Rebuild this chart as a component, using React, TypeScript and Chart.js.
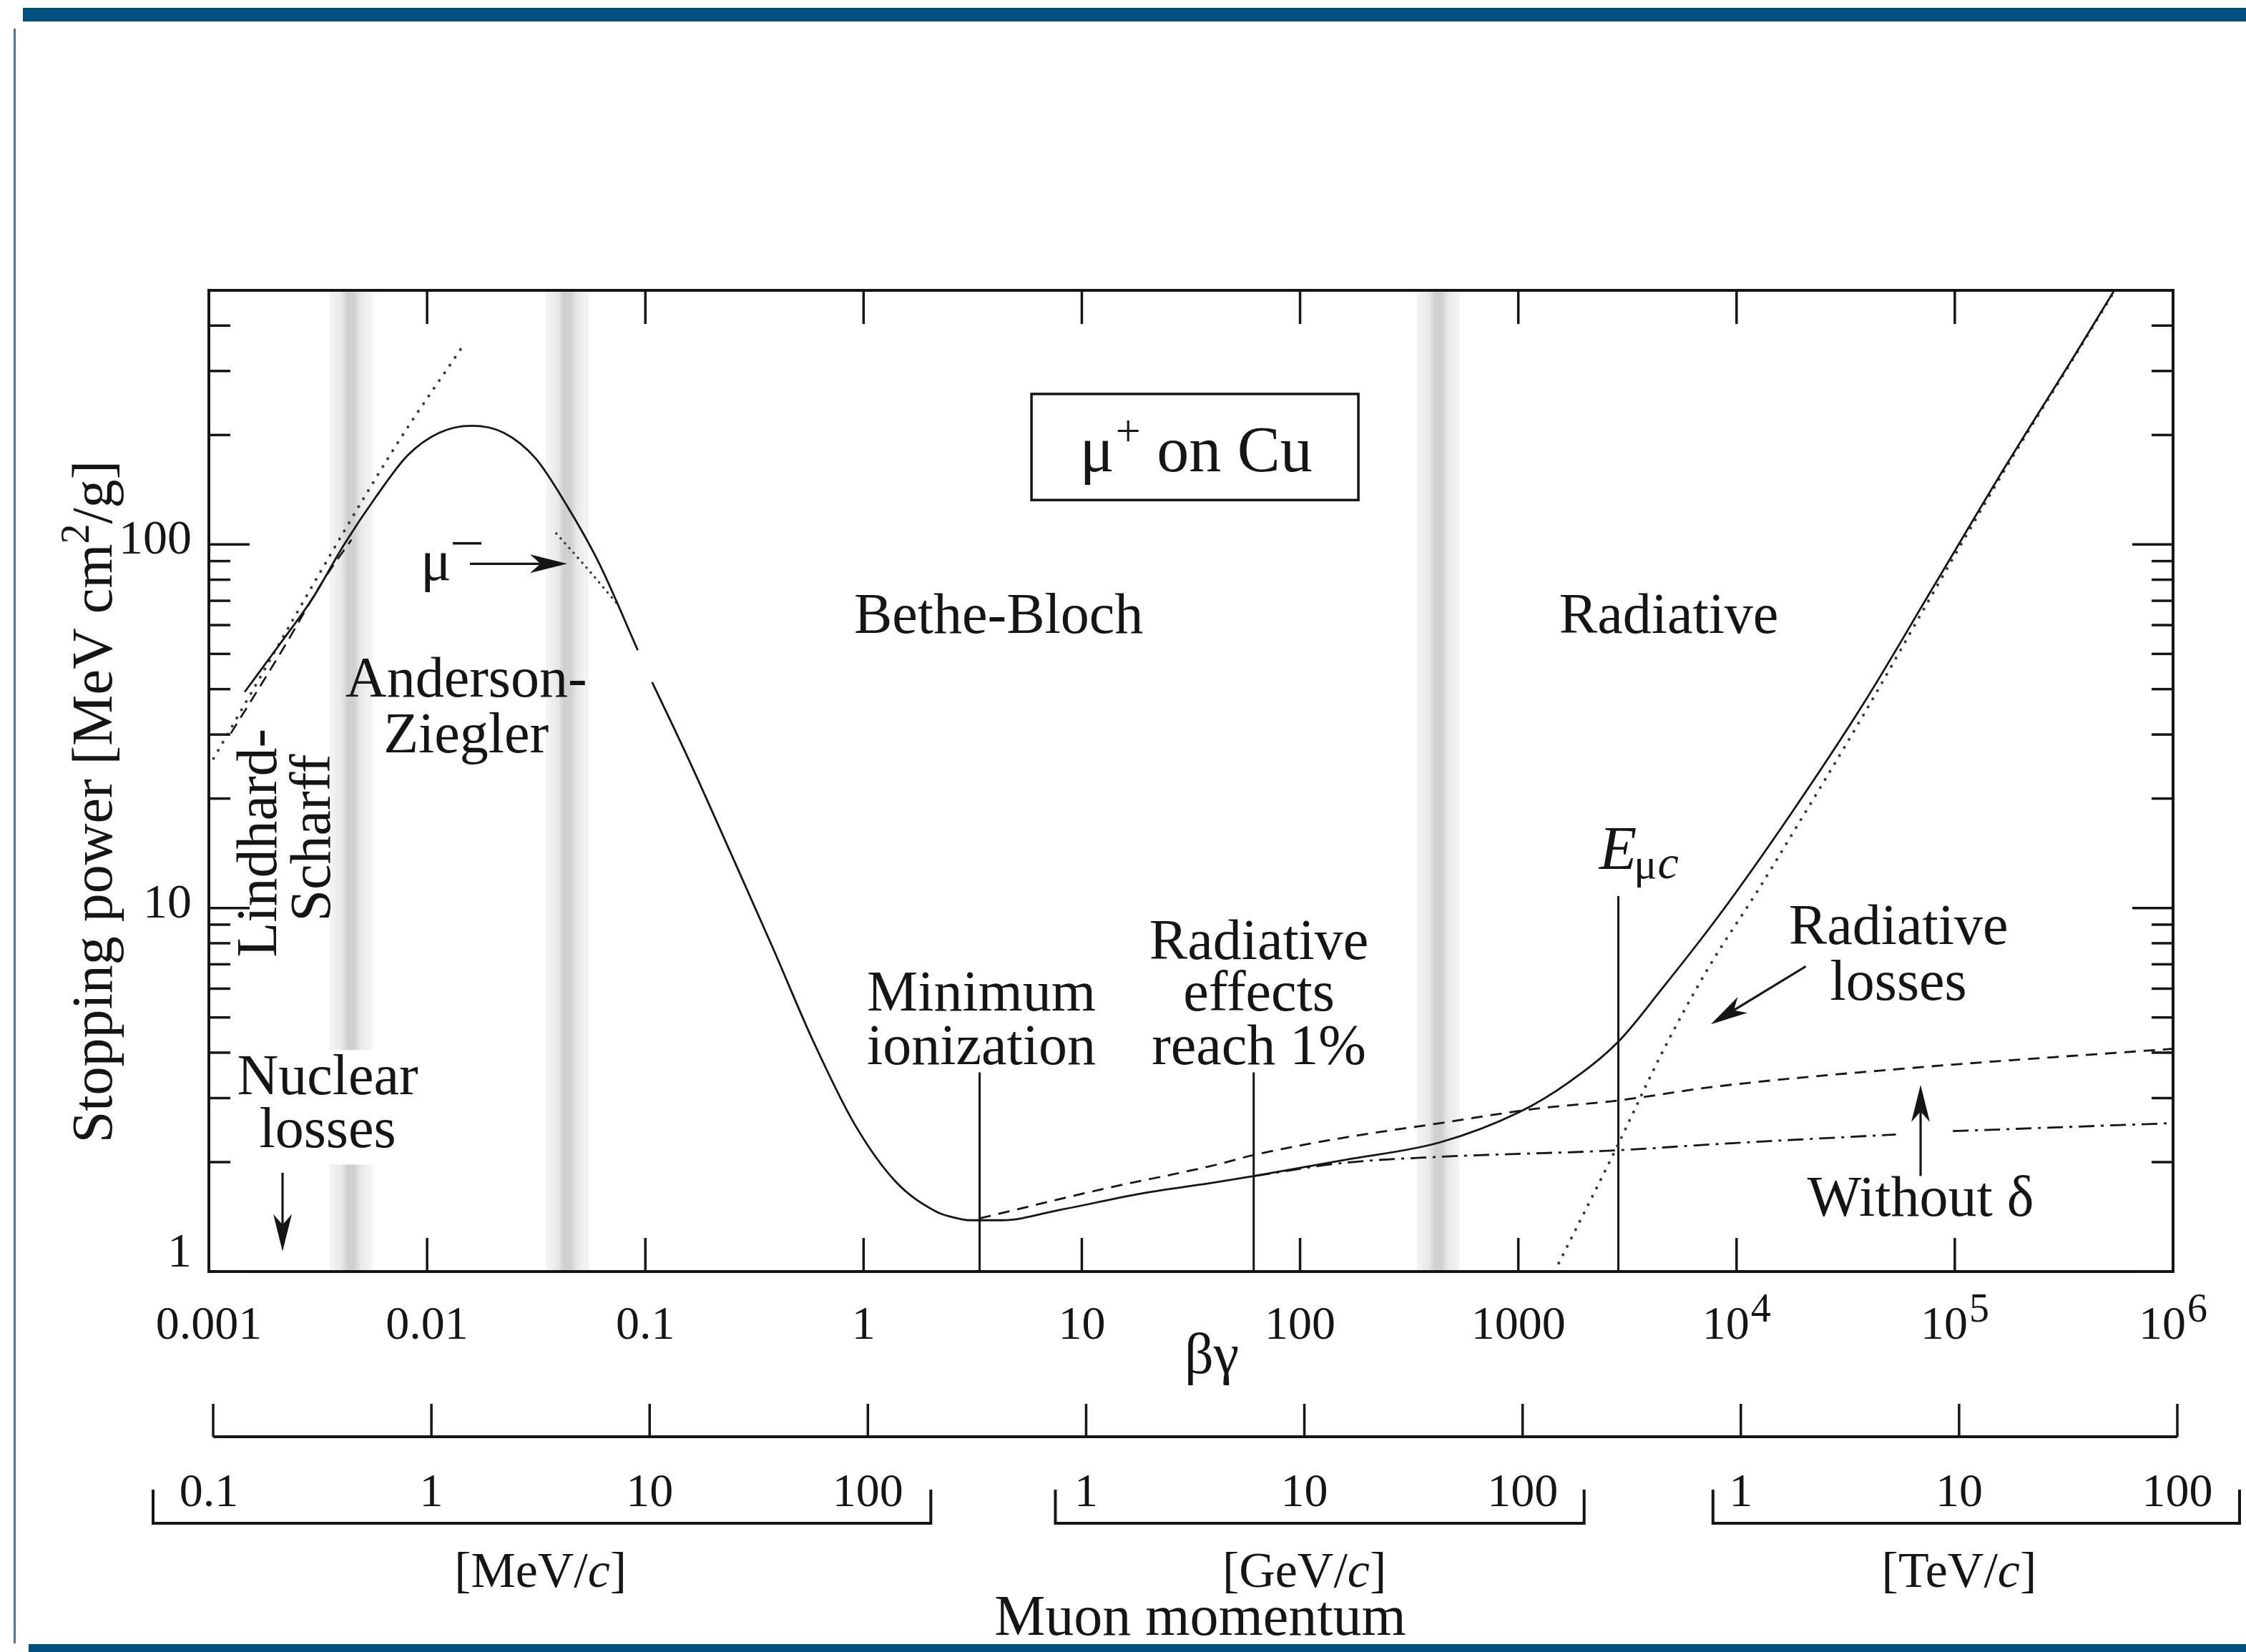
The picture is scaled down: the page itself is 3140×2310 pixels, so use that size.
import { useEffect, useRef } from 'react';
import { Chart, registerables } from 'chart.js';

Chart.register(...registerables);

// ---------- axes ----------
const xTickValues = [0.001, 0.01, 0.1, 1, 10, 100, 1000, 1e4, 1e5, 1e6];
const xTickLabels = ['0.001', '0.01', '0.1', '1', '10', '100', '1000', '10^4', '10^5', '10^6'];
const yMajorTicks = [1, 10, 100];
const yTickLabels = ['1', '10', '100'];
const yMinorTicks = [2, 3, 4, 5, 6, 7, 8, 9, 20, 30, 40, 50, 60, 70, 80, 90, 200, 300, 400];
const momentumLabels = ['0.1', '1', '10', '100', '1', '10', '100', '1', '10', '100'];
const momentumUnits = ['[MeV/', '[GeV/', '[TeV/'];
const momentumGroups = [[0, 3], [4, 6], [7, 9]];

// ---------- series (βγ, stopping power MeV cm²/g) ----------
const totalBG = [0.00146, 0.00212, 0.00297, 0.00416, 0.00582, 0.00816, 0.0114, 0.016, 0.0224, 0.0314, 0.044, 0.0616, 0.0923, 0.1, 0.1074, 0.16, 0.247, 0.382, 0.588, 0.907, 1.4, 2.16, 2.57, 3.05, 4.31, 7.91, 18.8, 41.2, 61.7, 159, 436, 1011, 1677, 2873, 4536, 8302, 17680, 37640, 80170, 170600, 363400, 560000];
const totalVal = [39.3, 53.3, 70.7, 99.8, 135, 176, 203, 212, 203, 172.5, 127, 88.4, 51.2, null, 41.8, 25.2, 14.1, 7.82, 4.3, 2.55, 1.77, 1.46, 1.41, 1.384, 1.384, 1.477, 1.639, 1.76, 1.832, 2.027, 2.265, 2.746, 3.294, 4.289, 5.98, 9.53, 18.1, 36.0, 76.8, 164, 340, 520];

const noDeltaBG = [3.4, 12.2, 41.2, 61, 158.6, 435.6, 1197, 2779, 8114, 69000, 1e6];
const noDeltaVal = [1.4, 1.681, 1.966, 2.09, 2.335, 2.558, 2.803, 2.948, 3.23, 3.646, 4.1];

const withDeltaBG = [61.7, 158.6, 435.6, 2779, 8114, 53700, 70000, 98000, 1e6];
const withDeltaVal = [1.832, 1.99, 2.068, 2.154, 2.242, 2.383, null, 2.433, 2.56];

const radiativeBG = [1466, 2779, 4607, 7383, 12780, 17680, 37640, 80170, 170600, 363400, 560000];
const radiativeVal = [1.0, 2.154, 4.05, 6.8, 11.4, 15.7, 33.5, 74.2, 161.5, 337.5, 517.5];

const lindhardDotBG = [0.001, 0.0069, 0.0145];
const lindhardDotVal = [24.5, 179.6, 350];

const lindhardDashBG = [0.00126, 0.00216, 0.00342, 0.0045];
const lindhardDashVal = [30.2, 51.0, 81.3, 103];

const muMinusBG = [0.0391, 0.052, 0.0754];
const muMinusVal = [107.2, 88.4, 67.95];

const markerBG = [3.4, 61.3, 2873];
const markerTop = [3.53, 3.53, 10.78];

const bandBG = [0.00448, 0.0439, 430];

// ---------- styling ----------
const INK = '#151515';
const FAM = '"Liberation Serif", "DejaVu Serif", "Times New Roman", serif';
const F = (size: number, style = '') => `${style} ${size}px ${FAM}`;

type Part = { t: string; f: string; dy?: number; dx?: number };
function drawRich(ctx: CanvasRenderingContext2D, parts: Part[], x: number, y: number, align: 'left' | 'center' | 'right' = 'center') {
  let w = 0;
  parts.forEach((p) => {
    ctx.font = p.f;
    w += ctx.measureText(p.t).width + (p.dx || 0);
  });
  let cx = align === 'left' ? x : align === 'center' ? x - w / 2 : x - w;
  ctx.textAlign = 'left';
  ctx.textBaseline = 'alphabetic';
  parts.forEach((p) => {
    ctx.font = p.f;
    cx += p.dx || 0;
    ctx.fillText(p.t, cx, y + (p.dy || 0));
    cx += ctx.measureText(p.t).width;
  });
  return w;
}

function arrow(ctx: CanvasRenderingContext2D, x1: number, y1: number, x2: number, y2: number) {
  const L = 52;
  const H = 13;
  const a = Math.atan2(y2 - y1, x2 - x1);
  const ux = Math.cos(a);
  const uy = Math.sin(a);
  const bx = x2 - ux * L;
  const by = y2 - uy * L;
  const nx = x2 - ux * L * 0.72;
  const ny = y2 - uy * L * 0.72;
  ctx.beginPath();
  ctx.moveTo(x1, y1);
  ctx.lineTo(nx, ny);
  ctx.stroke();
  ctx.beginPath();
  ctx.moveTo(x2, y2);
  ctx.lineTo(bx - uy * H, by + ux * H);
  ctx.lineTo(nx, ny);
  ctx.lineTo(bx + uy * H, by - ux * H);
  ctx.closePath();
  ctx.fill();
}

// annotation anchors in data coordinates (βγ, value)
const textNotes = [
  { t: 'Anderson-', bg: 0.0151, v: 38.1 },
  { t: 'Ziegler', bg: 0.0151, v: 26.8 },
  { t: 'Bethe-Bloch', bg: 4.155, v: 57.0 },
  { t: 'Radiative', bg: 4894, v: 57.0 },
  { t: 'Nuclear', bg: 0.0035, v: 3.073 },
  { t: 'losses', bg: 0.0035, v: 2.196 },
  { t: 'Minimum', bg: 3.466, v: 5.22 },
  { t: 'ionization', bg: 3.466, v: 3.722 },
  { t: 'Radiative', bg: 64.8, v: 7.23 },
  { t: 'effects', bg: 64.8, v: 5.22 },
  { t: 'reach 1%', bg: 64.8, v: 3.722 },
  { t: 'Radiative', bg: 55200, v: 7.95 },
  { t: 'losses', bg: 55200, v: 5.58 },
  { t: 'Without δ', bg: 69700, v: 1.422 },
];
const rotatedNotes = [
  { t: 'Lindhard-', bg: 0.00167, v: 15.1 },
  { t: 'Scharff', bg: 0.00294, v: 15.6 },
];
const arrowNotes = [
  { from: [0.002176, 1.87], to: [0.002176, 1.136] },
  { from: [0.01571, 88.5], to: [0.04386, 88.5] },
  { from: [20770, 6.91], to: [7626, 4.79] },
  { from: [69700, 1.832], to: [69700, 3.263] },
];

const decor = {
  id: 'decor',
  beforeDraw(chart: any) {
    const ctx: CanvasRenderingContext2D = chart.ctx;
    ctx.save();
    ctx.fillStyle = '#ffffff';
    ctx.fillRect(0, 0, chart.width, chart.height);
    ctx.fillStyle = '#00507f';
    ctx.fillRect(32, 11, chart.width - 32, 19);
    ctx.fillRect(40, chart.height - 11, chart.width - 40, 11);
    ctx.fillStyle = '#3d7caa';
    ctx.fillRect(19, 40, 3, chart.height - 52);
    ctx.restore();
  },
  beforeDatasetsDraw(chart: any) {
    const ctx: CanvasRenderingContext2D = chart.ctx;
    const a = chart.chartArea;
    const x = chart.scales.x;
    const y = chart.scales.y;
    ctx.save();
    bandBG.forEach((b) => {
      const cx = x.getPixelForValue(b);
      const hw = 30;
      const g = ctx.createLinearGradient(cx - hw, 0, cx + hw, 0);
      g.addColorStop(0, 'rgba(240,240,240,0.7)');
      g.addColorStop(0.28, '#e8e8e8');
      g.addColorStop(0.42, '#d0d0d0');
      g.addColorStop(0.58, '#d0d0d0');
      g.addColorStop(0.72, '#e8e8e8');
      g.addColorStop(1, 'rgba(240,240,240,0.7)');
      ctx.fillStyle = g;
      ctx.fillRect(cx - hw, a.top, hw * 2, a.bottom - a.top);
    });
    // white mask behind "Nuclear losses"
    ctx.font = F(80);
    const w = ctx.measureText('Nuclear').width;
    const nx = x.getPixelForValue(textNotes[4].bg);
    const ny1 = y.getPixelForValue(textNotes[4].v);
    const ny2 = y.getPixelForValue(textNotes[5].v);
    ctx.fillStyle = '#ffffff';
    ctx.fillRect(nx - w / 2 - 4, ny1 - 62, w + 8, ny2 - ny1 + 86);
    ctx.restore();
  },
  afterDatasetsDraw(chart: any) {
    const ctx: CanvasRenderingContext2D = chart.ctx;
    const a = chart.chartArea;
    const x = chart.scales.x;
    const y = chart.scales.y;
    const px = (v: number) => x.getPixelForValue(v);
    const py = (v: number) => y.getPixelForValue(v);
    ctx.save();
    ctx.strokeStyle = INK;
    ctx.fillStyle = INK;
    ctx.lineCap = 'butt';

    // frame
    ctx.lineWidth = 4;
    ctx.strokeRect(a.left, a.top, a.right - a.left, a.bottom - a.top);

    // ticks
    ctx.lineWidth = 3.5;
    const seg = (x1: number, y1: number, x2: number, y2: number) => {
      ctx.beginPath();
      ctx.moveTo(x1, y1);
      ctx.lineTo(x2, y2);
      ctx.stroke();
    };
    xTickValues.forEach((v) => {
      const p = px(v);
      seg(p, a.bottom, p, a.bottom - 47);
      seg(p, a.top, p, a.top + 47);
    });
    yMinorTicks.forEach((v) => {
      const p = py(v);
      seg(a.left, p, a.left + 30, p);
      seg(a.right, p, a.right - 30, p);
    });
    yMajorTicks.forEach((v) => {
      const p = py(v);
      seg(a.left, p, a.left + 57, p);
      seg(a.right, p, a.right - 57, p);
    });

    // x tick labels
    xTickValues.forEach((v, i) => {
      const lab = xTickLabels[i];
      const p = px(v);
      if (lab.includes('^')) {
        const [b, e] = lab.split('^');
        drawRich(ctx, [{ t: b, f: F(66) }, { t: e, f: F(56), dy: -24, dx: 2 }], p, a.bottom + 94);
      } else {
        drawRich(ctx, [{ t: lab, f: F(66) }], p, a.bottom + 94);
      }
    });
    // y tick labels
    ctx.font = F(68);
    ctx.textAlign = 'right';
    ctx.textBaseline = 'middle';
    yMajorTicks.forEach((v, i) => {
      const off = v === 1 ? -25 : -5;
      ctx.fillText(yTickLabels[i], a.left - 24, py(v) + off);
    });

    // axis titles
    drawRich(ctx, [{ t: 'βγ', f: F(80) }], 1694, a.bottom + 142);
    ctx.save();
    ctx.translate(a.left - 160, (a.top + a.bottom) / 2 + 29);
    ctx.rotate(-Math.PI / 2);
    drawRich(ctx, [
      { t: 'Stopping power [MeV cm', f: F(80) },
      { t: '2', f: F(56), dy: -32 },
      { t: '/g]', f: F(80) },
    ], 0, 24);
    ctx.restore();

    // momentum axis
    const dx = 6;
    const lineY = a.bottom + 231;
    ctx.lineWidth = 4;
    seg(px(xTickValues[0]) + dx, lineY, px(xTickValues[9]) + dx, lineY);
    ctx.lineWidth = 3.5;
    xTickValues.forEach((v) => {
      const p = px(v) + dx;
      seg(p, lineY, p, lineY - 46);
    });
    xTickValues.forEach((v, i) => {
      drawRich(ctx, [{ t: momentumLabels[i], f: F(66) }], px(v) + (i === 0 ? 0 : dx), a.bottom + 328);
    });
    const brackets = [[-84, 88], [-43, 86], [-39, 87]];
    momentumGroups.forEach((g, k) => {
      const l = px(xTickValues[g[0]]) + dx + brackets[k][0];
      const r = px(xTickValues[g[1]]) + dx + brackets[k][1];
      const bY = a.bottom + 352;
      ctx.lineWidth = 4;
      ctx.beginPath();
      ctx.moveTo(l, a.bottom + 305);
      ctx.lineTo(l, bY);
      ctx.lineTo(r, bY);
      ctx.lineTo(r, a.bottom + 305);
      ctx.stroke();
      const c = (px(xTickValues[g[0]]) + px(xTickValues[g[1]])) / 2 + dx;
      drawRich(ctx, [
        { t: momentumUnits[k], f: F(70) },
        { t: 'c', f: F(70, 'italic') },
        { t: ']', f: F(70) },
      ], c, a.bottom + 441);
    });
    drawRich(ctx, [{ t: 'Muon momentum', f: F(80) }], 1678, a.bottom + 508);

    // annotations
    textNotes.forEach((n) => {
      drawRich(ctx, [{ t: n.t, f: F(80) }], px(n.bg), py(n.v));
    });
    rotatedNotes.forEach((n) => {
      ctx.save();
      ctx.translate(px(n.bg), py(n.v));
      ctx.rotate(-Math.PI / 2);
      drawRich(ctx, [{ t: n.t, f: F(80) }], 0, 26);
      ctx.restore();
    });
    // mu minus label
    const muX = px(0.00934);
    const muY = py(79.9);
    const mw = drawRich(ctx, [{ t: 'μ', f: F(80) }], muX, muY, 'left');
    ctx.lineWidth = 3.5;
    seg(muX + mw + 2, muY - 51, muX + mw + 42, muY - 51);
    // E_mu c
    const ew = drawRich(ctx, [{ t: 'E', f: F(86, 'italic') }], px(2348), py(12.8), 'left');
    drawRich(ctx, [
      { t: 'μ', f: F(60) },
      { t: 'c', f: F(66, 'italic'), dx: 1 },
    ], px(2348) + ew - 4, py(12.8) + 13, 'left');

    // arrows
    ctx.lineWidth = 3.2;
    arrowNotes.forEach((n) => {
      arrow(ctx, px(n.from[0]), py(n.from[1]), px(n.to[0]), py(n.to[1]));
    });

    // box "μ+ on Cu"
    const bl = px(5.88);
    const br = px(185);
    const bt = py(259.4);
    const bb = py(132.5);
    ctx.fillStyle = '#ffffff';
    ctx.fillRect(bl, bt, br - bl, bb - bt);
    ctx.fillStyle = INK;
    ctx.lineWidth = 3.5;
    ctx.strokeRect(bl, bt, br - bl, bb - bt);
    drawRich(ctx, [
      { t: 'μ', f: F(90) },
      { t: '+', f: F(62), dy: -36, dx: 2 },
      { t: ' on Cu', f: F(90) },
    ], px(33.4), py(158.9));

    ctx.restore();
  },
};

function pts(xs: number[], ys: (number | null)[]) {
  return xs.map((v, i) => ({ x: v, y: ys[i] }));
}

export default function App() {
  const ref = useRef<HTMLCanvasElement>(null);
  useEffect(() => {
    if (!ref.current) return;
    const curve = (data: any[], dash: number[], width: number, color = INK, cap: CanvasLineCap = 'butt') => ({
      data,
      borderColor: color,
      borderWidth: width,
      borderDash: dash,
      borderCapStyle: cap,
      pointRadius: 0,
      fill: false,
      cubicInterpolationMode: 'monotone' as const,
      spanGaps: false,
    });
    const markers = markerBG.map((b, i) => ({
      data: [{ x: b, y: 1 }, { x: b, y: markerTop[i] }],
      borderColor: INK,
      borderWidth: 3,
      pointRadius: 0,
      fill: false,
      tension: 0,
    }));
    const chart = new Chart(ref.current, {
      type: 'line',
      data: {
        datasets: [
          curve(pts(totalBG, totalVal), [], 2.8),
          curve(pts(noDeltaBG, noDeltaVal), [16, 11], 2.8),
          curve(pts(withDeltaBG, withDeltaVal), [22, 9, 4, 9], 2.8),
          curve(pts(radiativeBG, radiativeVal), [0.1, 13], 4, '#3a3a3a', 'round'),
          curve(pts(lindhardDotBG, lindhardDotVal), [0.1, 13], 4, '#3a3a3a', 'round'),
          curve(pts(lindhardDashBG, lindhardDashVal), [16, 10], 2.6),
          curve(pts(muMinusBG, muMinusVal), [0.1, 9], 3.5, '#3a3a3a', 'round'),
          ...markers,
        ] as any,
      },
      options: {
        animation: false,
        responsive: false,
        maintainAspectRatio: false,
        devicePixelRatio: 1,
        layout: { padding: { left: 292, top: 406, right: 102, bottom: 532 } },
        scales: {
          x: { type: 'logarithmic', min: 0.001, max: 1e6, display: false },
          y: { type: 'logarithmic', min: 1, max: 500, display: false },
        },
        plugins: { legend: { display: false }, tooltip: { enabled: false } },
        elements: { point: { radius: 0 } },
      },
      plugins: [decor],
    });
    return () => chart.destroy();
  }, []);
  return (
    <div style={{ position: 'absolute', left: 0, top: 0, width: 3140, height: 2310, background: '#fff' }}>
      <canvas ref={ref} width={3140} height={2310} style={{ display: 'block', width: 3140, height: 2310 }} />
    </div>
  );
}
